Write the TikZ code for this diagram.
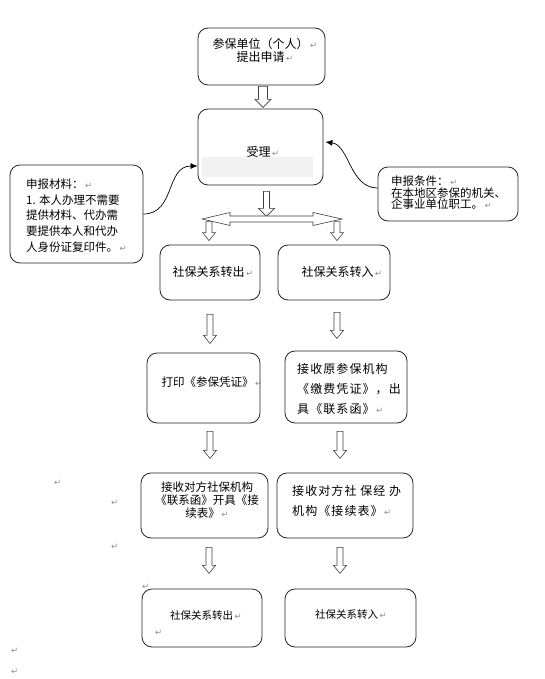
\documentclass[tikz,border=0pt]{standalone}
\usepackage{fontspec}
\setmainfont{Noto Sans CJK SC}
\newfontfamily\markfont{DejaVu Sans}
\newfontfamily\widecjk[LetterSpace=9]{Noto Sans CJK SC}
\usepackage{tikz}
\usetikzlibrary{arrows.meta, calc, positioning}

\newcommand\parmk{{\markfont\color{black!45}\fontsize{8.5}{8.5}\selectfont\,↵}}

\tikzset{
  box/.style={draw=black!85, line width=0.8pt, rounded corners=10pt, inner sep=0pt},
  txt/.style={inner sep=0pt, font=\fontsize{11.5}{13}\selectfont, align=center},
  hollow/.style={draw=black!75, line width=0.6pt, fill=white},
  pics/hdown/.style args={#1/#2/#3}{code={
    \draw[hollow] (-#2,0) -- (#2,0) -- (#2,#1-8) -- (#3,#1-8) -- (0,#1) -- (-#3,#1-8) -- (-#2,#1-8) -- cycle;}},
}

\begin{document}
\begin{tikzpicture}[x=1pt, y=-1pt, >={Latex[length=7pt,width=6pt]}]
        \useasboundingbox (0,0) rectangle (544,679);
        % boxes
        \node[box, minimum width=127pt, minimum height=57pt] (apply) at (261.5,56.5) {};
        \node[box, minimum width=125pt, minimum height=76pt] (accept) at (260.5,147) {};
        \node[box, minimum width=133pt, minimum height=98pt] (material) at (76.5,214) {};
        \node[box, minimum width=140pt, minimum height=54pt] (condition) at (448,194) {};
        \node[box, minimum width=100pt, minimum height=55pt] (out_one) at (210,272.5) {};
        \node[box, minimum width=112pt, minimum height=55pt] (in_one) at (334,272.5) {};
        \node[box, minimum width=113pt, minimum height=70pt] (print) at (203.5,388) {};
        \node[box, minimum width=122pt, minimum height=72pt] (fee) at (346,387) {};
        \node[box, minimum width=127pt, minimum height=65pt] (out_two) at (204.5,505.5) {};
        \node[box, minimum width=136pt, minimum height=65pt] (in_two) at (345,505.5) {};
        \node[box, minimum width=120pt, minimum height=58pt] (out_three) at (202,618) {};
        \node[box, minimum width=131pt, minimum height=58pt] (in_three) at (350.5,618) {};
        \fill[black!5] (202,157) rectangle (313,177);

        % texts
        \node[txt, font=\fontsize{12}{13}\selectfont] (apply_text) at (265,50.5) {参保单位（个人）\parmk\\提出申请\parmk};
        \node[txt, font=\fontsize{12}{13}\selectfont] (accept_text) at (263,152) {受理\parmk};
        \node[txt, anchor=north west, align=left, font=\fontsize{11.5}{15.75}\selectfont] (material_text) at (26,178.5)
          {申报材料：\parmk\\1. 本人办理不需要\\提供材料、代办需\\要提供本人和代办\\人身份证复印件。\parmk};
        \node[txt, anchor=north west, align=left, font=\fontsize{11.5}{11.5}\selectfont] (condition_text) at (391,176)
          {申报条件：\parmk\\在本地区参保的机关、\\企事业单位职工。\parmk};
        \node[txt, font=\fontsize{12}{13}\selectfont] (out_one_text) at (213,272) {社保关系转出\parmk};
        \node[txt, font=\fontsize{12}{13}\selectfont] (in_one_text) at (342,272) {社保关系转入\parmk};
        \node[txt] (print_text) at (212,382) {打印《参保凭证》\parmk};
        \node[txt, anchor=north west, align=left, font=\fontsize{12}{20}\selectfont\widecjk] (fee_text) at (297,363)
          {接收原参保机构\\《缴费凭证》，出\\具《联系函》\parmk};
        \node[txt, font=\fontsize{11.5}{13}\selectfont] (out_two_text) at (207,500)
          {接收对方社保机构\\《联系函》开具《接\\续表》\parmk};
        \node[txt, anchor=north west, align=left, font=\fontsize{12}{20}\selectfont\widecjk] (in_two_text) at (292,485)
          {接收对方社 保经 办\\机构《接续表》\parmk};
        \node[txt, font=\fontsize{10.5}{12}\selectfont] (out_three_text) at (206,615) {社保关系转出\parmk};
        \node[txt, font=\fontsize{10.5}{12}\selectfont] (in_three_text) at (351,614) {社保关系转入\parmk};

        % stray paragraph marks
        \foreach \p [count=\i] in {(57,483),(114,503),(114,547),(14,651),(14,672),(145,587),(158,633)}
          \node[inner sep=0pt] (mark\i) at \p {\parmk};

        % curved connectors
        \draw[->, line width=0.7pt] (material.east) .. controls +(32,0) and +(-32,0) .. ($(accept.west)+(0,19)$);
        \draw[->, line width=0.7pt] ($(condition.west)+(0,-6)$) .. controls +(-28,0) and +(24,3) .. ($(accept.east)+(2,-5)$);

        % hollow arrows
        \pic at ($(apply.south)+(1.5,1)$) {hdown=21/4.5/8};
        \pic at ($(accept.south)+(6,6)$) {hdown=25/3/8};
        \draw[hollow] (202,219) -- (230,212.5) -- (230,216) -- (313,216) -- (313,212.5) -- (342,219)
          -- (313,225.5) -- (313,222) -- (230,222) -- (230,225.5) -- cycle;
        \pic at ($(out_one.north)+(-1,-23)$) {hdown=19/3/6.5};
        \pic at ($(in_one.north)+(3,-23)$) {hdown=19/3/6.5};
        \pic at ($(out_one.south)+(0,14)$) {hdown=29/3/6.5};
        \pic at ($(in_one.south)+(3,12)$) {hdown=26/3/6.5};
        \pic at ($(print.south)+(6.5,8)$) {hdown=27/3/6.5};
        \pic at ($(fee.south)+(-6,8)$) {hdown=27/3/6.5};
        \pic at ($(out_two.south)+(4.5,9)$) {hdown=26/3/6.5};
        \pic at ($(in_two.south)+(-5,9)$) {hdown=26/3/6.5};
      \end{tikzpicture}
\end{document}
